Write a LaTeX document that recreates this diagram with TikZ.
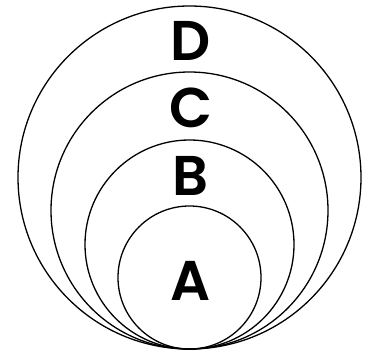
\documentclass[tikz,border=0pt]{standalone}
\usepackage{fontspec}
\setmainfont{Poppins}[UprightFont=* SemiBold]
\begin{document}
\begin{tikzpicture}[x=1pt,y=-1pt,
  ring/.style={draw=black,line width=1.3pt},
  lbl/.style={font=\fontsize{56}{56}\selectfont,inner sep=0pt,anchor=center}]
\useasboundingbox (0,0) rectangle (367,354);
\coordinate (bot) at (189.5,349);
\draw[ring] (189.5,177.5) circle[radius=171.5];
\draw[ring] (189.5,210.5) circle[radius=138.5];
\draw[ring] (189.5,244.5) circle[radius=104.5];
\draw[ring] (189.5,277.5) circle[radius=71.5];
\node[lbl] (D) at (191,41) {D};
\node[lbl] (C) at (191,108) {C};
\node[lbl] (B) at (191,176) {B};
\node[lbl] (A) at (191,281) {A};
\end{tikzpicture}
\end{document}
